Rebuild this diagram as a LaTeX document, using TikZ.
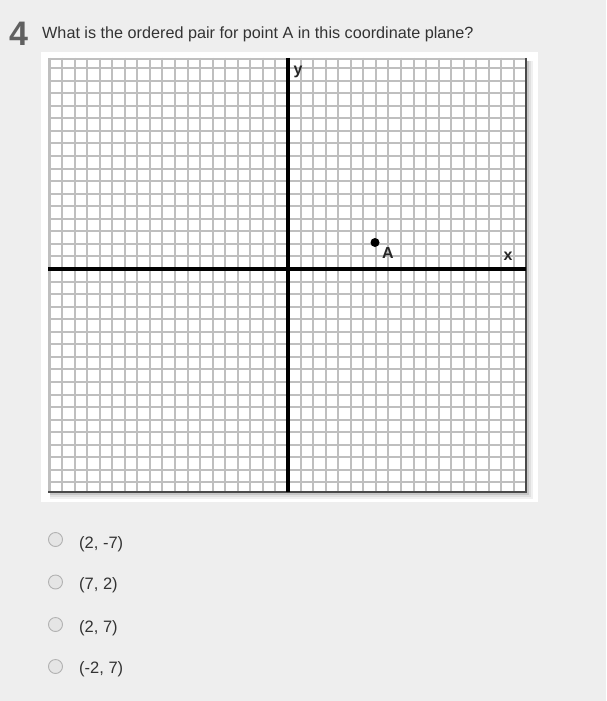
\documentclass[tikz,border=0pt]{standalone}
\usepackage{fontspec}
\setmainfont{Liberation Sans}
\definecolor{bgcol}{HTML}{EEEEEE}
\definecolor{gridcol}{HTML}{BFBFBF}
\definecolor{numcol}{HTML}{606060}
\definecolor{txtcol}{HTML}{333333}
\definecolor{edgecol}{HTML}{4A4A4A}
\begin{document}
\begin{tikzpicture}[x=1pt,y=-1pt,
  gridline/.style={gridcol,line width=2pt},
  axisline/.style={black,line width=3.2pt},
  axlabel/.style={font=\fontsize{16}{16}\selectfont\bfseries,inner sep=0pt,text=black!85},
  answer/.style={font=\fontsize{16.5}{17}\selectfont,text=txtcol,anchor=west,inner sep=0pt},
  radio/.style={circle,minimum size=14pt,inner sep=0pt,draw=black!30,line width=0.9pt,fill=black!10}]
\fill[bgcol] (0,0) rectangle (606,701);
\useasboundingbox (0,0) rectangle (606,701);
% header
\node[font=\fontsize{34}{34}\selectfont\bfseries,text=numcol,inner sep=0pt] (num) at (18.5,34) {4};
\node[font=\fontsize{16.2}{17}\selectfont,text=txtcol,anchor=base west,inner sep=0pt] (q) at (42,39) {What is the ordered pair for point A in this coordinate plane?};
% white panel
\fill[white] (41,52) rectangle (538,502);
% shadow
\fill[black!6] (50,61) rectangle (533,499);
\fill[black!12] (50,61) rectangle (531,497);
\fill[black!22] (50,61) rectangle (529,495);
% grid area
\fill[white] (48,58) rectangle (526,492);
\begin{scope}
\clip (48,58) rectangle (526,492);
\foreach \k in {-19,...,19} {
  \pgfmathsetmacro{\gx}{round(288+\k*12.55)}
  \draw[gridline] (\gx,58) -- (\gx,492);
}
\foreach \k in {-17,...,18} {
  \pgfmathsetmacro{\gy}{round(269+\k*12.55)}
  \draw[gridline] (48,\gy) -- (526,\gy);
}
\end{scope}
\draw[gridcol,line width=2.6pt] (49,492) -- (49,59) -- (526,59);
\draw[edgecol,line width=2.8pt] (526,58) -- (526,492) -- (48,492);
% axes
\coordinate (xl) at (48,269);
\coordinate (xr) at (526,269);
\coordinate (yt) at (288,58);
\coordinate (yb) at (288,492);
\draw[axisline] (xl) -- (xr);
\draw[axisline] (yt) -- (yb);
\node[axlabel] (ylab) at (298,72) {y};
\node[axlabel] (xlab) at (508,256) {x};
% point A
\node[circle,fill=black,minimum size=9pt,inner sep=0pt] (A) at (375,242.5) {};
\node[axlabel] (Alab) at (388,253) {A};
% answers
\node[radio] (r1) at (55.5,539.5) {};
\node[answer] (a1) at (79,544) {(2, -7)};
\node[radio] (r2) at (55.5,582) {};
\node[answer] (a2) at (79,585) {(7, 2)};
\node[radio] (r3) at (55.5,624.5) {};
\node[answer] (a3) at (79,628) {(2, 7)};
\node[radio] (r4) at (55.5,666.5) {};
\node[answer] (a4) at (79,669) {(-2, 7)};
\end{tikzpicture}
\end{document}
